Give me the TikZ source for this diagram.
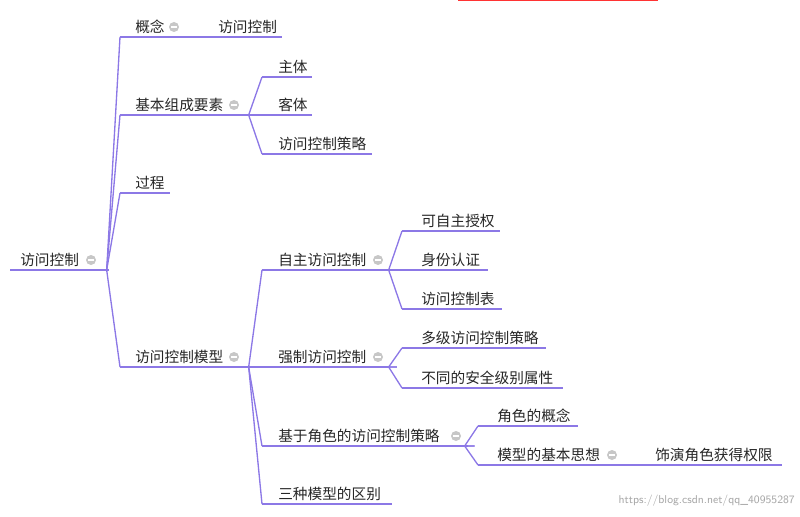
\documentclass[tikz,border=0pt]{standalone}
\usepackage{fontspec}
\newfontfamily\cjk{Noto Sans CJK SC}
\begin{document}
\begin{tikzpicture}[x=0.75pt,y=-0.75pt,
  lbl/.style={anchor=west,inner sep=0pt,font=\cjk\fontsize{11}{13}\selectfont,text=black!85},
  ul/.style={draw={rgb,255:red,140;green,120;blue,230},line width=1pt},
  col/.style={circle,fill=black!22,minimum size=7.5pt,inner sep=0pt,
    path picture={\draw[white,line width=0.8pt] ([xshift=-2pt]path picture bounding box.center) -- ([xshift=2pt]path picture bounding box.center);}}]
\useasboundingbox (0,0) rectangle (800,517);
\fill[red!80] (458,0) rectangle (658,1.5);
\newcommand\mnode[6]{% name, x, y, text, ulstart, ulend
  \node[lbl] (#1) at (#2,#3) {#4};
  \coordinate (#1S) at (#5,#3+10);
  \coordinate (#1E) at (#6,#3+10);
  \draw[ul] (#1S) -- (#1E);}
\mnode{root}{20}{260}{访问控制}{10}{100}
\node[col] (c0) at (91,260) {};
\mnode{gn}{135}{27}{概念}{120}{185}
\node[col] (c1) at (174,27) {};
\mnode{gnA}{218}{27}{访问控制}{205}{282}
\mnode{jb}{135}{105}{基本组成要素}{120}{245}
\node[col] (c2) at (234,105) {};
\mnode{zt}{278}{67}{主体}{262}{312}
\mnode{kt}{278}{105}{客体}{262}{312}
\mnode{cl}{278}{144}{访问控制策略}{262}{372}
\mnode{gc}{135}{183}{过程}{120}{170}
\mnode{mx}{135}{357}{访问控制模型}{120}{245}
\node[col] (c3) at (234,357) {};
\mnode{zz}{278}{260}{自主访问控制}{262}{390}
\node[col] (c4) at (378,260) {};
\mnode{ks}{421}{221}{可自主授权}{402}{500}
\mnode{sf}{421}{260}{身份认证}{402}{488}
\mnode{fb}{421}{299}{访问控制表}{402}{502}
\mnode{qz}{278}{357}{强制访问控制}{262}{390}
\node[col] (c5) at (378,357) {};
\mnode{dj}{421}{338}{多级访问控制策略}{402}{546}
\mnode{bt}{421}{378}{不同的安全级别属性}{402}{563}
\mnode{js}{278}{436}{基于角色的访问控制策略}{262}{468}
\node[col] (c6) at (456,436) {};
\mnode{gnj}{497}{416}{角色的概念}{478}{578}
\mnode{sx}{497}{455}{模型的基本思想}{478}{622}
\node[col] (c7) at (612,455) {};
\mnode{sy}{655}{455}{饰演角色获得权限}{635}{782}
\mnode{sz}{278}{494}{三种模型的区别}{262}{392}
\foreach \p/\c in {root/gn,root/jb,root/gc,root/mx,jb/zt,jb/kt,jb/cl,mx/zz,mx/qz,mx/js,mx/sz,zz/ks,zz/sf,zz/fb,qz/dj,qz/bt,js/gnj,js/sx}
  \draw[ul] (\p E) .. controls ([xshift=14]\p E) and ([xshift=-14]\c S|-\p E) .. ([xshift=-10]\c S|-\p E) -- (\c S);
\draw[ul] (gnE) -- (gnAS);
\draw[ul] (sxE) -- (syS);
\node[lbl,anchor=east,font=\sffamily\fontsize{8.5}{10}\selectfont,text=black!35] (wm) at (795,501) {https://blog.csdn.net/qq\_40955287};
\end{tikzpicture}
\end{document}
